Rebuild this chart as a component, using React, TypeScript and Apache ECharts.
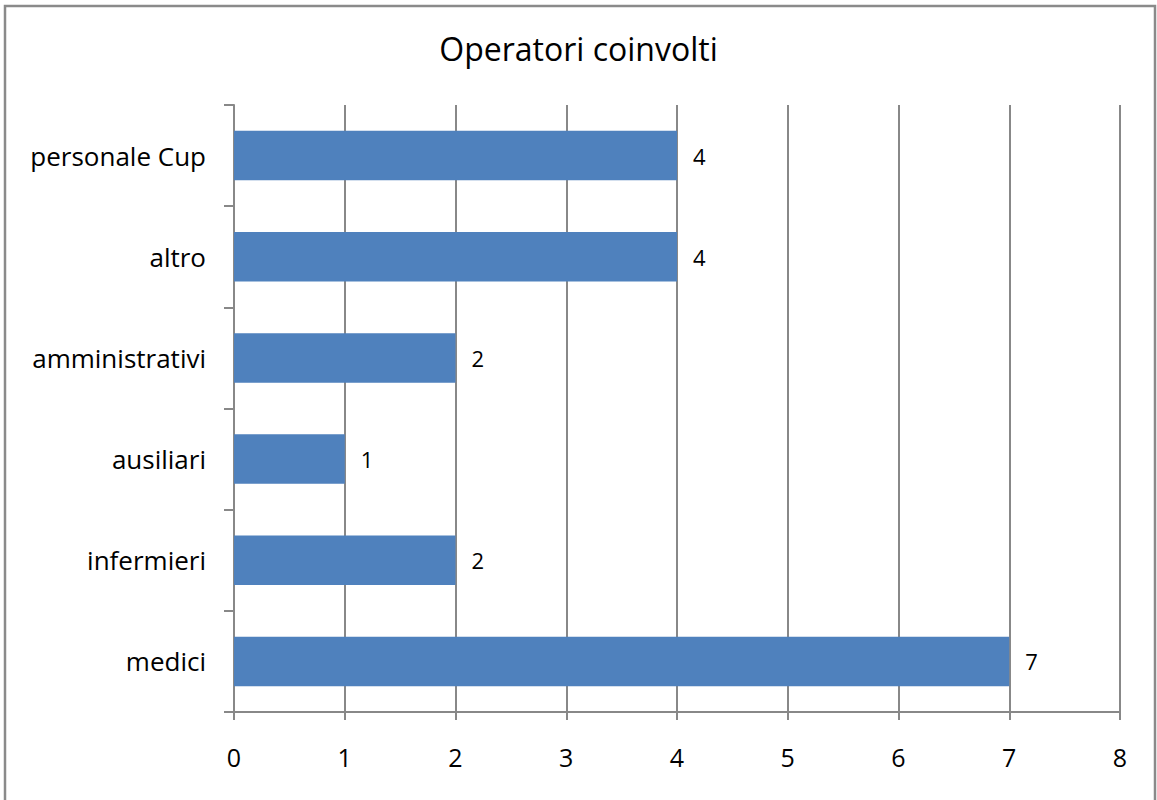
import React, { useEffect, useRef } from "react";
import * as echarts from "echarts";

const categories = ["medici", "infermieri", "ausiliari", "amministrativi", "altro", "personale Cup"];
const values = [7, 2, 1, 2, 4, 4];
const xTicks = [0, 1, 2, 3, 4, 5, 6, 7, 8];
const title = "Operatori coinvolti";

const FONT = "'Open Sans', Lato, sans-serif";

export default function App() {
  const ref = useRef<HTMLDivElement>(null);
  useEffect(() => {
    document.body.style.margin = "0";
    const chart = echarts.init(ref.current!, null, { renderer: "svg" });
    chart.setOption({
      animation: false,
      backgroundColor: "#ffffff",
      title: {
        text: title,
        left: "center",
        top: 27,
        textStyle: { fontFamily: FONT, fontSize: 32, fontWeight: "normal", color: "#000" },
      },
      graphic: [
        {
          type: "rect",
          shape: { x: 5, y: 6, width: 1150, height: 820 },
          style: { fill: "none", stroke: "#8a8a8a", lineWidth: 2.5 },
          silent: true,
        },
      ],
      grid: { left: 234, top: 105, width: 886, height: 607, containLabel: false },
      xAxis: {
        type: "value",
        min: xTicks[0],
        max: xTicks[xTicks.length - 1],
        interval: 1,
        axisLine: { show: true, lineStyle: { color: "#888", width: 2 } },
        axisTick: { show: true, length: 8, lineStyle: { color: "#888", width: 2 } },
        axisLabel: { fontFamily: FONT, fontSize: 25, color: "#000", margin: 32 },
        splitLine: { show: true, lineStyle: { color: "#888", width: 2 } },
      },
      yAxis: {
        type: "category",
        data: categories,
        axisLine: { show: true, lineStyle: { color: "#888", width: 2 } },
        axisTick: { show: true, length: 10, alignWithLabel: false, lineStyle: { color: "#888", width: 2 } },
        axisLabel: { fontFamily: FONT, fontSize: 26, color: "#000", margin: 28 },
        splitLine: { show: false },
      },
      series: [
        {
          type: "bar",
          data: values,
          barWidth: "49%",
          itemStyle: { color: "#4F81BD" },
          label: {
            show: true,
            position: "right",
            distance: 16,
            fontFamily: FONT,
            fontSize: 22,
            color: "#000",
          },
        },
      ],
    });
    return () => chart.dispose();
  }, []);
  return <div ref={ref} style={{ width: 1157, height: 800 }} />;
}
